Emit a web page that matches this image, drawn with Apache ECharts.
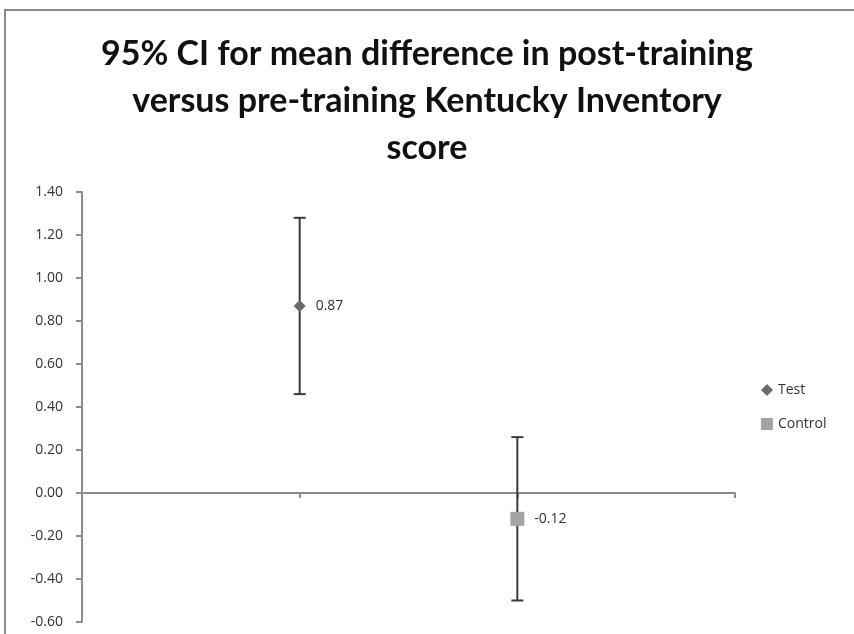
<!DOCTYPE html>
<html>
<head>
<meta charset="utf-8">
<script src="https://cdn.jsdelivr.net/npm/echarts@6/dist/echarts.min.js"></script>
<style>
    html, body { margin: 0; padding: 0; background: #fff; }
    #chart { width: 854px; height: 634px; }
</style>
</head>
<body>
<div id="chart"></div>
<script>
    // groups and their x positions on the (hidden) x axis
    const groupNames = ['Test', 'Control'];
    const groupX = [1, 2];
    // mean difference and 95% CI bounds
    const meanDiff = [0.87, -0.12];
    const ciLower = [0.46, -0.50];
    const ciUpper = [1.28, 0.26];
    const yTicks = [-0.6, -0.4, -0.2, 0, 0.2, 0.4, 0.6, 0.8, 1.0, 1.2, 1.4];

    const markerShape = ['diamond', 'rect'];
    const markerSize = [12, 14];
    const markerColor = ['#6b6b6b', '#a3a3a3'];

    let myChart = echarts.init(document.getElementById('chart'));

    // error bar drawn with custom series
    function errorBar(i) {
        return {
            type: 'custom',
            silent: true,
            z: 2,
            data: [[groupX[i], ciLower[i], ciUpper[i]]],
            renderItem: function (params, api) {
                let lo = api.coord([api.value(0), api.value(1)]);
                let hi = api.coord([api.value(0), api.value(2)]);
                let cap = 6;
                let style = { stroke: '#3a3a3a', lineWidth: 2 };
                return {
                    type: 'group',
                    children: [
                        { type: 'line', shape: { x1: lo[0], y1: lo[1], x2: hi[0], y2: hi[1] }, style: style },
                        { type: 'line', shape: { x1: lo[0] - cap, y1: lo[1], x2: lo[0] + cap, y2: lo[1] }, style: style },
                        { type: 'line', shape: { x1: hi[0] - cap, y1: hi[1], x2: hi[0] + cap, y2: hi[1] }, style: style }
                    ]
                };
            }
        };
    }

    let series = [];
    groupNames.forEach(function (name, i) {
        series.push(errorBar(i));
        series.push({
            name: name,
            type: 'scatter',
            z: 3,
            symbol: markerShape[i],
            symbolSize: markerSize[i],
            itemStyle: { color: markerColor[i], opacity: 1 },
            data: [[groupX[i], meanDiff[i]]],
            label: {
                show: true,
                position: 'right',
                distance: 10,
                color: '#333',
                fontSize: 14,
                fontFamily: 'Open Sans',
                formatter: function (p) { return p.value[1].toFixed(2); }
            }
        });
    });

    myChart.setOption({
        animation: false,
        backgroundColor: '#fff',
        graphic: [{
            type: 'rect',
            shape: { x: 5, y: 10, width: 900, height: 700 },
            style: { fill: 'none', stroke: '#8a8a8a', lineWidth: 2 },
            silent: true
        }],
        title: {
            text: '95% CI for mean difference in post-training\nversus pre-training Kentucky Inventory\nscore',
            left: 'center',
            top: 26,
            textStyle: {
                fontFamily: 'Lato',
                fontWeight: 'bold',
                fontSize: 34,
                lineHeight: 47,
                color: '#111'
            }
        },
        legend: {
            orient: 'vertical',
            left: 756,
            top: 378,
            itemGap: 20,
            itemWidth: 12,
            itemHeight: 12,
            data: groupNames,
            textStyle: { color: '#333', fontSize: 14, fontFamily: 'Open Sans' }
        },
        grid: {
            left: 82,
            right: 119,
            top: 192,
            bottom: 12
        },
        xAxis: {
            type: 'value',
            min: 0,
            max: 3,
            interval: 1,
            splitLine: { show: false },
            axisLabel: { show: false },
            axisLine: { onZero: true, lineStyle: { color: '#8c8c8c', width: 2 } },
            axisTick: { show: true, length: 5, lineStyle: { color: '#8c8c8c', width: 2 } }
        },
        yAxis: {
            type: 'value',
            min: yTicks[0],
            max: yTicks[yTicks.length - 1],
            interval: 0.2,
            splitLine: { show: false },
            axisLine: { show: true, lineStyle: { color: '#8c8c8c', width: 2 } },
            axisTick: { show: true, length: 6, lineStyle: { color: '#8c8c8c', width: 2 } },
            axisLabel: {
                color: '#333',
                fontSize: 14,
                fontFamily: 'Open Sans',
                margin: 19,
                formatter: function (v) { return v.toFixed(2); }
            }
        },
        series: series
    });
</script>
</body>
</html>
